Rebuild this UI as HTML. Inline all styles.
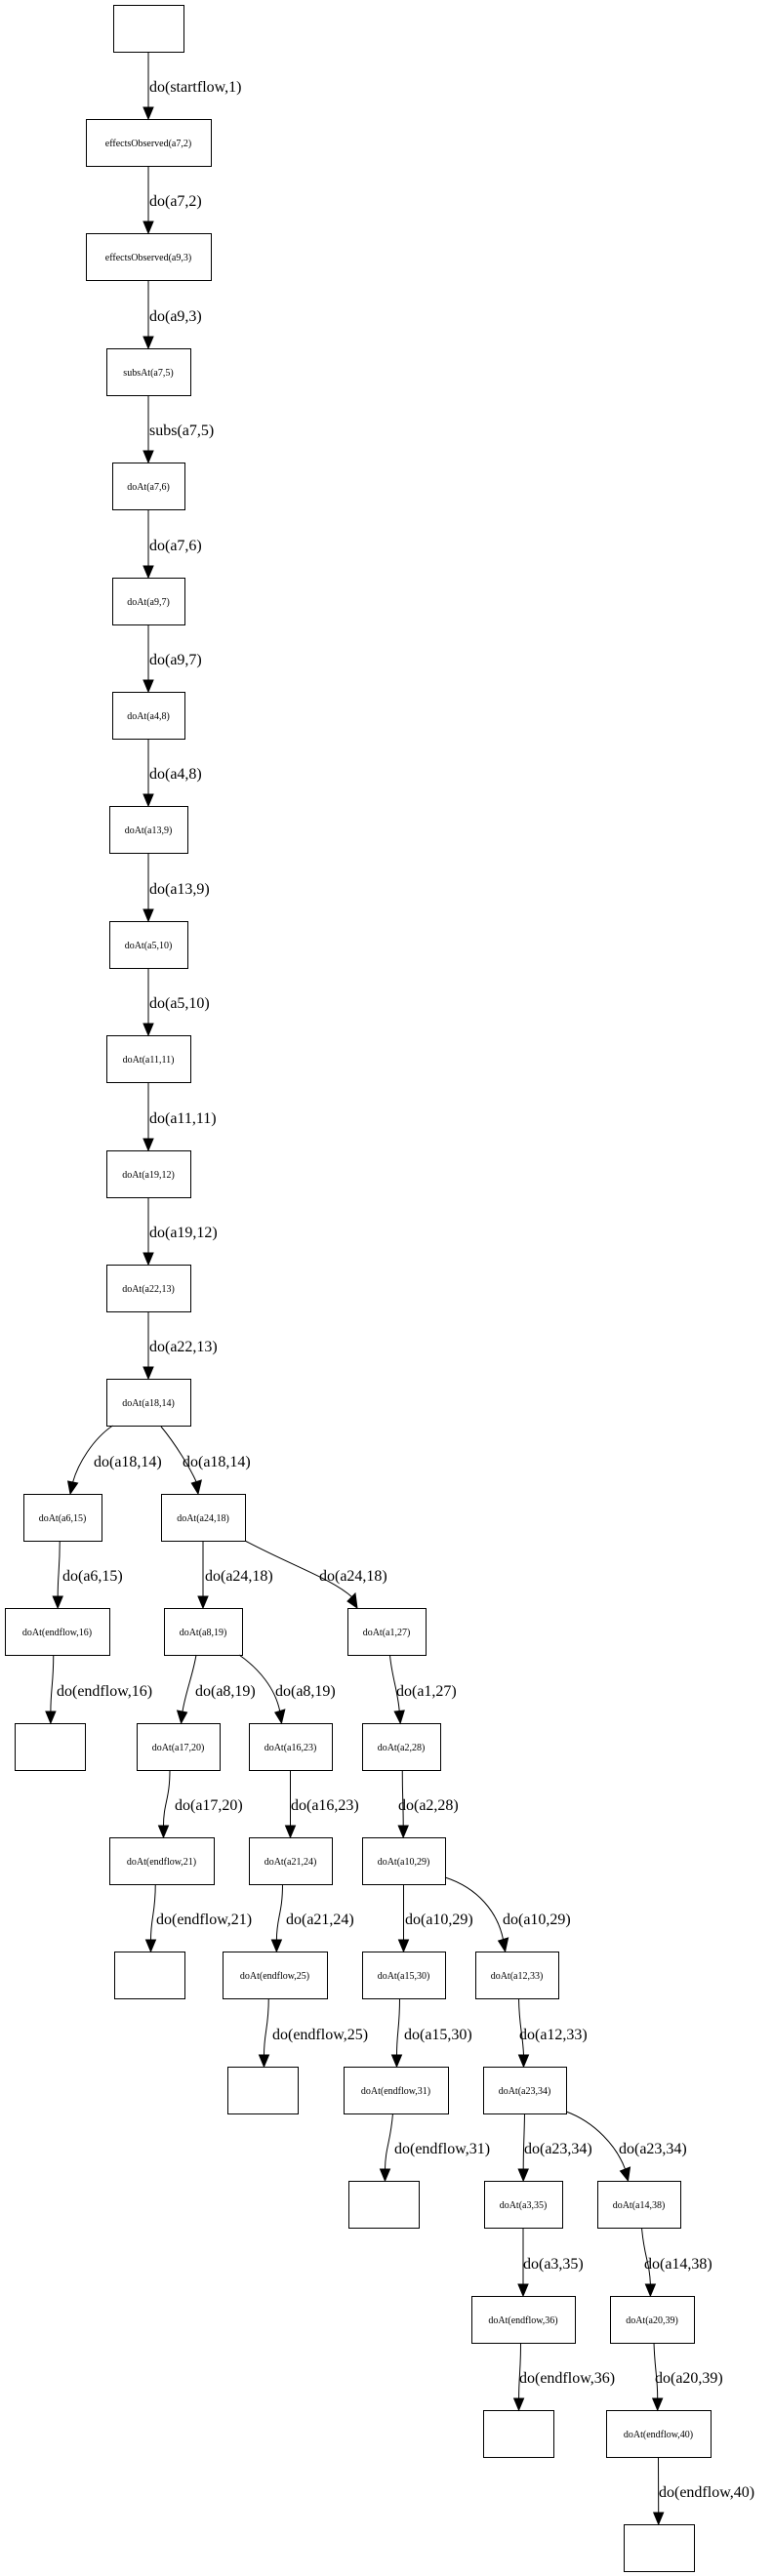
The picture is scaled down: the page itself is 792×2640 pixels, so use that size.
<!DOCTYPE html>
<html><head><meta charset="utf-8"><style>
html,body{margin:0;padding:0;background:#fff;}
svg{display:block}
.n{font-family:"Liberation Serif",serif;font-size:10px;text-anchor:middle}
.l{font-family:"Liberation Serif",serif;font-size:16px}
</style></head><body>
<svg xmlns="http://www.w3.org/2000/svg" width="792" height="2640" viewBox="0 0 792 2640">
<g fill="#fff" stroke="#000" stroke-width="1">
<rect x="116.5" y="5.5" width="72" height="48"/>
<rect x="88.5" y="122.5" width="128" height="48"/>
<rect x="88.5" y="239.5" width="128" height="48"/>
<rect x="109.5" y="357.5" width="86" height="48"/>
<rect x="115.5" y="474.5" width="74" height="48"/>
<rect x="115.5" y="592.5" width="74" height="48"/>
<rect x="115.5" y="709.5" width="74" height="48"/>
<rect x="112.5" y="826.5" width="80" height="48"/>
<rect x="112.5" y="944.5" width="80" height="48"/>
<rect x="109.5" y="1061.5" width="86" height="48"/>
<rect x="109.5" y="1179.5" width="86" height="48"/>
<rect x="109.5" y="1296.5" width="86" height="48"/>
<rect x="109.5" y="1413.5" width="86" height="48"/>
<rect x="24.5" y="1531.5" width="80" height="48"/>
<rect x="165.5" y="1531.5" width="86" height="48"/>
<rect x="5.5" y="1648.5" width="107" height="48"/>
<rect x="168.5" y="1648.5" width="80" height="48"/>
<rect x="356.5" y="1648.5" width="80" height="48"/>
<rect x="15.5" y="1766.5" width="72" height="48"/>
<rect x="140.5" y="1766.5" width="85" height="48"/>
<rect x="255.5" y="1766.5" width="85" height="48"/>
<rect x="371.5" y="1766.5" width="80" height="48"/>
<rect x="112.5" y="1883.5" width="107" height="48"/>
<rect x="255.5" y="1883.5" width="85" height="48"/>
<rect x="371.5" y="1883.5" width="85" height="48"/>
<rect x="117.5" y="2000.5" width="72" height="48"/>
<rect x="228.5" y="2000.5" width="107" height="48"/>
<rect x="371.5" y="2000.5" width="85" height="48"/>
<rect x="487.5" y="2000.5" width="85" height="48"/>
<rect x="233.5" y="2118.5" width="72" height="48"/>
<rect x="352.5" y="2118.5" width="107" height="48"/>
<rect x="495.5" y="2118.5" width="85" height="48"/>
<rect x="357.5" y="2235.5" width="72" height="48"/>
<rect x="496.5" y="2235.5" width="80" height="48"/>
<rect x="612.5" y="2235.5" width="85" height="48"/>
<rect x="483.5" y="2353.5" width="106" height="48"/>
<rect x="625.5" y="2353.5" width="86" height="48"/>
<rect x="495.5" y="2470.5" width="72" height="48"/>
<rect x="621.5" y="2470.5" width="107" height="48"/>
<rect x="639.5" y="2587.5" width="72" height="48"/>
</g>
<g class="n">
<text x="152" y="150">effectsObserved(a7,2)</text>
<text x="152" y="267">effectsObserved(a9,3)</text>
<text x="152" y="385">subsAt(a7,5)</text>
<text x="152" y="502">doAt(a7,6)</text>
<text x="152" y="620">doAt(a9,7)</text>
<text x="152" y="737">doAt(a4,8)</text>
<text x="152" y="854">doAt(a13,9)</text>
<text x="152" y="972">doAt(a5,10)</text>
<text x="152" y="1089">doAt(a11,11)</text>
<text x="152" y="1207">doAt(a19,12)</text>
<text x="152" y="1324">doAt(a22,13)</text>
<text x="152" y="1441">doAt(a18,14)</text>
<text x="64" y="1559">doAt(a6,15)</text>
<text x="208" y="1559">doAt(a24,18)</text>
<text x="58.5" y="1676">doAt(endflow,16)</text>
<text x="208" y="1676">doAt(a8,19)</text>
<text x="396" y="1676">doAt(a1,27)</text>
<text x="182.5" y="1794">doAt(a17,20)</text>
<text x="297.5" y="1794">doAt(a16,23)</text>
<text x="411" y="1794">doAt(a2,28)</text>
<text x="165.5" y="1911">doAt(endflow,21)</text>
<text x="297.5" y="1911">doAt(a21,24)</text>
<text x="413.5" y="1911">doAt(a10,29)</text>
<text x="281.5" y="2028">doAt(endflow,25)</text>
<text x="413.5" y="2028">doAt(a15,30)</text>
<text x="529.5" y="2028">doAt(a12,33)</text>
<text x="405.5" y="2146">doAt(endflow,31)</text>
<text x="537.5" y="2146">doAt(a23,34)</text>
<text x="536" y="2263">doAt(a3,35)</text>
<text x="654.5" y="2263">doAt(a14,38)</text>
<text x="536" y="2381">doAt(endflow,36)</text>
<text x="668" y="2381">doAt(a20,39)</text>
<text x="674.5" y="2498">doAt(endflow,40)</text>
</g>
<g fill="none" stroke="#000" stroke-width="1">
<path d="M152 53.5V110"/>
<path d="M152 170.5V227"/>
<path d="M152 287.5V345"/>
<path d="M152 405.5V462"/>
<path d="M152 522.5V580"/>
<path d="M152 640.5V697"/>
<path d="M152 757.5V814"/>
<path d="M152 874.5V932"/>
<path d="M152 992.5V1049"/>
<path d="M152 1109.5V1167"/>
<path d="M152 1227.5V1284"/>
<path d="M152 1344.5V1401"/>
<path d="M115.5 1461 C95 1475 80 1500 74.6 1519"/>
<path d="M165 1462 C180 1480 195 1505 201.3 1519"/>
<path d="M61.25 1579 C61.25 1609 59.2 1613 59.2 1636"/>
<path d="M208 1579V1636"/>
<path d="M251 1579 C300 1605 340 1618 361 1637"/>
<path d="M54.75 1696 C54.75 1726 51.9 1731 51.9 1754"/>
<path d="M201 1696 C198 1715 190 1735 187 1754"/>
<path d="M245 1696 C265 1710 282 1730 286.8 1754"/>
<path d="M399.5 1696 C401 1716 408 1735 409.2 1754"/>
<path d="M174 1814 C174 1844 167.5 1848 167.5 1871"/>
<path d="M297.5 1814V1871"/>
<path d="M412.25 1814 C412.25 1844 413.2 1848 413.2 1871"/>
<path d="M159.25 1931 C159.25 1961 154.5 1965 154.5 1988"/>
<path d="M289.5 1931 C289.5 1961 283.4 1965 283.4 1988"/>
<path d="M413.5 1931V1988"/>
<path d="M456 1924 C490 1935 510 1960 515.6 1988"/>
<path d="M275.25 2048 C275.25 2078 270.5 2083 270.5 2106"/>
<path d="M409.5 2048 C409.5 2078 406.5 2083 406.5 2106"/>
<path d="M531.5 2048 C532 2078 535.5 2083 536.5 2106"/>
<path d="M402.5 2166 C400 2196 395 2200 394.5 2223"/>
<path d="M537.5 2166 C537 2196 536.2 2200 536.2 2223"/>
<path d="M580 2164 C610 2175 632 2200 640.5 2223"/>
<path d="M536 2283V2341"/>
<path d="M657.5 2283 C660 2313 665.5 2318 666.4 2341"/>
<path d="M533.5 2401 C533.5 2431 531.6 2435 531.6 2458"/>
<path d="M670 2401 C671 2431 673.7 2435 673.7 2458"/>
<path d="M674.5 2518 C674.5 2548 674.7 2552 674.7 2575"/>
</g>
<g fill="#000" stroke="#000" stroke-width="1">
<polygon points="152,122 147,110 157,110"/>
<polygon points="152,239 147,227 157,227"/>
<polygon points="152,357 147,345 157,345"/>
<polygon points="152,474 147,462 157,462"/>
<polygon points="152,592 147,580 157,580"/>
<polygon points="152,709 147,697 157,697"/>
<polygon points="152,826 147,814 157,814"/>
<polygon points="152,944 147,932 157,932"/>
<polygon points="152,1061 147,1049 157,1049"/>
<polygon points="152,1179 147,1167 157,1167"/>
<polygon points="152,1296 147,1284 157,1284"/>
<polygon points="152,1413 147,1401 157,1401"/>
<polygon points="72,1531 69.6,1518 79.6,1520"/>
<polygon points="203,1531 196.3,1520 206.3,1517"/>
<polygon points="59.2,1648 54.2,1636 64.2,1636"/>
<polygon points="208,1648 203,1636 213,1636"/>
<polygon points="366,1648 356,1641 364,1633"/>
<polygon points="51.9,1766 46.9,1754 56.9,1754"/>
<polygon points="185.6,1766 181.6,1753 191.6,1755"/>
<polygon points="288.5,1766 281.8,1755 291.8,1752"/>
<polygon points="410.2,1766 404.2,1754 414.2,1753"/>
<polygon points="167.5,1883 162.5,1871 172.5,1871"/>
<polygon points="297.5,1883 292.5,1871 302.5,1871"/>
<polygon points="413.2,1883 408.2,1871 418.2,1871"/>
<polygon points="154.5,2000 149.5,1988 159.5,1988"/>
<polygon points="283.4,2000 278.4,1988 288.4,1988"/>
<polygon points="413.5,2000 408.5,1988 418.5,1988"/>
<polygon points="517.6,2000 510.6,1989 520.6,1986"/>
<polygon points="270.5,2118 265.5,2106 275.5,2106"/>
<polygon points="406.5,2118 401.5,2106 411.5,2106"/>
<polygon points="536.5,2118 531.5,2106 541.5,2106"/>
<polygon points="394.5,2235 389.5,2223 399.5,2223"/>
<polygon points="536.2,2235 531.2,2223 541.2,2223"/>
<polygon points="643.5,2235 635.5,2225 645.5,2221"/>
<polygon points="536,2353 531,2341 541,2341"/>
<polygon points="666.4,2353 661.4,2341 671.4,2341"/>
<polygon points="531.6,2470 526.6,2458 536.6,2458"/>
<polygon points="673.7,2470 668.7,2458 678.7,2458"/>
<polygon points="674.7,2587 669.7,2575 679.7,2575"/>
</g>
<g class="l">
<text x="153" y="94">do(startflow,1)</text>
<text x="153" y="211">do(a7,2)</text>
<text x="153" y="329">do(a9,3)</text>
<text x="153" y="446">subs(a7,5)</text>
<text x="153" y="564">do(a7,6)</text>
<text x="153" y="681">do(a9,7)</text>
<text x="153" y="798">do(a4,8)</text>
<text x="153" y="916">do(a13,9)</text>
<text x="153" y="1033">do(a5,10)</text>
<text x="153" y="1151">do(a11,11)</text>
<text x="153" y="1268">do(a19,12)</text>
<text x="153" y="1385">do(a22,13)</text>
<text x="96" y="1503">do(a18,14)</text>
<text x="187" y="1503">do(a18,14)</text>
<text x="64" y="1620">do(a6,15)</text>
<text x="210" y="1620">do(a24,18)</text>
<text x="327" y="1620">do(a24,18)</text>
<text x="58" y="1738">do(endflow,16)</text>
<text x="200" y="1738">do(a8,19)</text>
<text x="282" y="1738">do(a8,19)</text>
<text x="406" y="1738">do(a1,27)</text>
<text x="179" y="1855">do(a17,20)</text>
<text x="298" y="1855">do(a16,23)</text>
<text x="408" y="1855">do(a2,28)</text>
<text x="160" y="1972">do(endflow,21)</text>
<text x="293" y="1972">do(a21,24)</text>
<text x="415" y="1972">do(a10,29)</text>
<text x="515" y="1972">do(a10,29)</text>
<text x="279" y="2090">do(endflow,25)</text>
<text x="414" y="2090">do(a15,30)</text>
<text x="532" y="2090">do(a12,33)</text>
<text x="404" y="2207">do(endflow,31)</text>
<text x="537" y="2207">do(a23,34)</text>
<text x="634" y="2207">do(a23,34)</text>
<text x="536" y="2325">do(a3,35)</text>
<text x="660" y="2325">do(a14,38)</text>
<text x="532" y="2442">do(endflow,36)</text>
<text x="671" y="2442">do(a20,39)</text>
<text x="675" y="2559">do(endflow,40)</text>
</g>
</svg>
</body></html>
